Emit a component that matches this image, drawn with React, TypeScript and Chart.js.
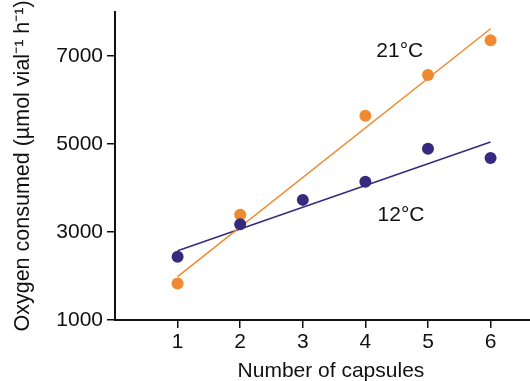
import React, { useEffect, useRef } from "react";
import { Chart, registerables } from "chart.js";

Chart.register(...registerables);

const capsules = [1, 2, 3, 4, 5, 6];
const warmCapsules = [1, 2, 4, 5, 6];
const warmValues = [1830, 3390, 5640, 6570, 7360];
const coolValues = [2440, 3175, 3730, 4140, 4890, 4680];
const warmFitX = [1, 6];
const warmFitY = [1985, 7620];
const coolFitX = [1, 6];
const coolFitY = [2575, 5045];
const xTickValues = [1, 2, 3, 4, 5, 6];
const yTickValues = [1000, 3000, 5000, 7000];
const warmLabel = "21°C";
const coolLabel = "12°C";
const warmLabelPos = { x: 4.55, y: 7110 };
const coolLabelPos = { x: 4.57, y: 3375 };
const xTitle = "Number of capsules";
const yTitle = "Oxygen consumed (µmol vial⁻¹ h⁻¹)";

const ORANGE = "rgb(240,138,48)";
const PURPLE = "rgb(53,42,125)";
const FONT = "'Liberation Sans', Arial, Helvetica, sans-serif";

export default function App() {
  const ref = useRef<HTMLCanvasElement>(null);
  useEffect(() => {
    const canvas = ref.current;
    if (!canvas) return;
    const labelsPlugin = {
      id: "labels",
      afterDatasetsDraw(chart: any) {
        const { ctx, scales } = chart;
        const xs = scales.x;
        const ys = scales.y;
        ctx.save();
        ctx.fillStyle = "#111";
        ctx.font = `21px ${FONT}`;
        ctx.textAlign = "center";
        ctx.textBaseline = "middle";
        ctx.fillText(warmLabel, xs.getPixelForValue(warmLabelPos.x), ys.getPixelForValue(warmLabelPos.y));
        ctx.fillText(coolLabel, xs.getPixelForValue(coolLabelPos.x), ys.getPixelForValue(coolLabelPos.y));
        ctx.textBaseline = "alphabetic";
        ctx.fillText(xTitle, xs.getPixelForValue(3.45), 377);
        ctx.restore();
      },
    };
    const chart = new Chart(canvas, {
      type: "scatter",
      data: {
        datasets: [
          {
            type: "scatter",
            label: "12 points",
            data: capsules.map((c, i) => ({ x: c, y: coolValues[i] })),
            backgroundColor: PURPLE,
            borderWidth: 0,
            pointRadius: 6,
            order: 0,
          },
          {
            type: "scatter",
            label: "21 points",
            data: warmCapsules.map((c, i) => ({ x: c, y: warmValues[i] })),
            backgroundColor: ORANGE,
            borderWidth: 0,
            pointRadius: 6,
            order: 1,
          },
          {
            type: "line",
            label: "21 fit",
            data: warmFitX.map((c, i) => ({ x: c, y: warmFitY[i] })),
            borderColor: ORANGE,
            borderWidth: 1.5,
            pointRadius: 0,
            fill: false,
            order: 2,
          },
          {
            type: "line",
            label: "12 fit",
            data: coolFitX.map((c, i) => ({ x: c, y: coolFitY[i] })),
            borderColor: PURPLE,
            borderWidth: 1.5,
            pointRadius: 0,
            fill: false,
            order: 2,
          },
        ],
      } as any,
      options: {
        responsive: false,
        animation: false,
        layout: { padding: { top: 12, right: 0, left: 0, bottom: 0 } },
        plugins: { legend: { display: false }, tooltip: { enabled: false } },
        scales: {
          x: {
            type: "linear",
            min: 0,
            max: 6.63,
            afterBuildTicks: (s: any) => {
              s.ticks = xTickValues.map((v) => ({ value: v }));
            },
            afterFit: (s: any) => {
              s.height = 61;
              s.paddingLeft = 0;
              s.paddingRight = 0;
            },
            grid: { drawOnChartArea: false, drawTicks: true, tickLength: 8, color: "#111", lineWidth: 1.5 },
            border: { display: true, color: "#111", width: 2 },
            ticks: {
              color: "#111",
              font: { family: FONT, size: 21 },
              padding: 2,
              maxRotation: 0,
              callback: (v: any) => String(v),
            },
          },
          y: {
            type: "linear",
            min: 1000,
            max: 8000,
            afterBuildTicks: (s: any) => {
              s.ticks = yTickValues.map((v) => ({ value: v }));
            },
            afterFit: (s: any) => {
              s.width = 115;
              s.paddingTop = 0;
              s.paddingBottom = 0;
            },
            grid: { drawOnChartArea: false, drawTicks: true, tickLength: 8, color: "#111", lineWidth: 1.5 },
            border: { display: true, color: "#111", width: 2 },
            ticks: {
              color: "#111",
              font: { family: FONT, size: 21 },
              padding: 4,
              callback: (v: any) => String(v),
            },
            title: {
              display: true,
              text: yTitle,
              color: "#111",
              font: { family: FONT, size: 21.5 },
              padding: { top: 10, bottom: 0 },
            },
          },
        },
      } as any,
      plugins: [labelsPlugin],
    });
    return () => chart.destroy();
  }, []);
  return (
    <div
      style={{
        position: "absolute",
        left: 0,
        top: 0,
        width: 530,
        height: 381,
        overflow: "hidden",
        background: "#fff",
      }}
    >
      <canvas ref={ref} width={536} height={381} />
    </div>
  );
}
